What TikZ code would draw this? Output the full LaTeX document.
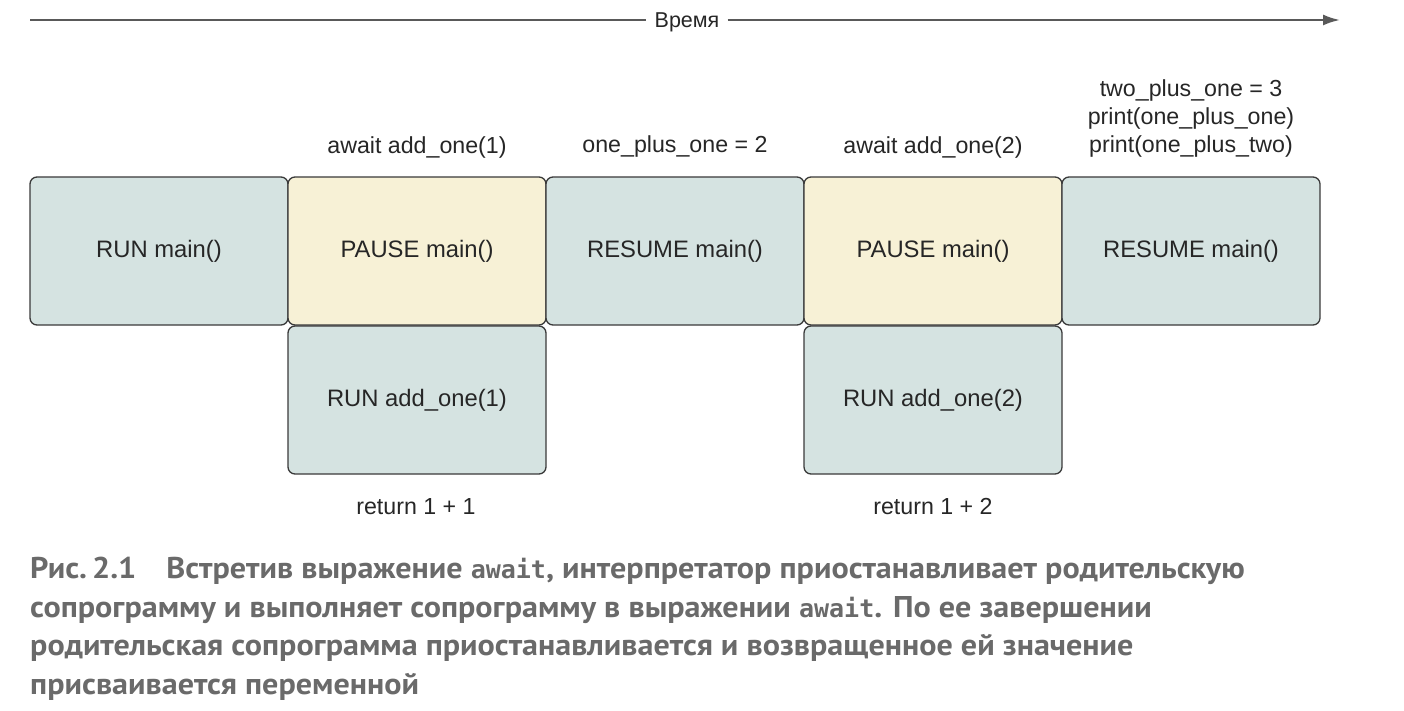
\documentclass[tikz,border=0pt]{standalone}
\usepackage{fontspec}
\setmainfont{Liberation Sans}
\newfontfamily\capfont[FakeStretch=1.07]{PT Sans}
\newfontfamily\capmono{DejaVu Sans Mono}
\usetikzlibrary{arrows.meta}
\definecolor{teal}{HTML}{D5E3E1}
\definecolor{pale}{HTML}{F7F1D6}
\definecolor{edge}{HTML}{3A3A3A}
\definecolor{capgray}{HTML}{6A6A6A}
\tikzset{
  blk/.style={draw=edge, line width=1.3pt, rounded corners=7pt, minimum width=258pt, minimum height=148pt, font=\fontsize{23.8}{28}\selectfont, text=black!85, inner sep=0pt},
  run/.style={blk, fill=teal},
  pause/.style={blk, fill=pale},
  lbl/.style={font=\fontsize{23.2}{28}\selectfont, text=black!85, align=center, inner sep=0pt},
}
\begin{document}
\begin{tikzpicture}[x=1pt,y=-1pt]
\useasboundingbox (0,0) rectangle (1404,711);
% time axis
\node[lbl, font=\fontsize{21.5}{24}\selectfont, fill=white, inner xsep=8pt] (t) at (687,22) {Время};
\coordinate (ts) at (30,20);
\coordinate (te) at (1340,20);
\draw[line width=2.2pt, draw=black!65] (ts) -- (t.west |- ts);
\draw[line width=2.2pt, draw=black!65, -{Latex[length=17pt,width=11pt]}] (t.east |- ts) -- (te);
% boxes
\node[run] (b1) at (159,251) {RUN main()};
\node[pause] (b2) at (417,251) {PAUSE main()};
\node[run] (b3) at (675,251) {RESUME main()};
\node[pause] (b4) at (933,251) {PAUSE main()};
\node[run] (b5) at (1191,251) {RESUME main()};
\node[run] (c2) at (417,400) {RUN add\_one(1)};
\node[run] (c4) at (933,400) {RUN add\_one(2)};
% labels
\node[lbl] (l2) at (417,147) {await add\_one(1)};
\node[lbl] (l3) at (675,147) {one\_plus\_one = 2};
\node[lbl] (l4) at (933,147) {await add\_one(2)};
\node[lbl, anchor=south] (l5) at (1191,158) {two\_plus\_one = 3\\print(one\_plus\_one)\\print(one\_plus\_two)};
\node[lbl] (r2) at (416,507) {return 1 + 1};
\node[lbl] (r4) at (933,507) {return 1 + 2};
% caption
\node[anchor=north west, inner sep=0pt, align=left, text=capgray, font=\capfont\bfseries\fontsize{30}{38.5}\selectfont] (cap) at (30,557)
{Рис.\,2.1\hspace{30pt}Встретив выражение {\capmono\fontsize{25}{38.5}\selectfont await}, интерпретатор приостанавливает родительскую\\
сопрограмму и выполняет сопрограмму в выражении {\capmono\fontsize{25}{38.5}\selectfont await}. По ее завершении\\
родительская сопрограмма приостанавливается и возвращенное ей значение\\
присваивается переменной};
\end{tikzpicture}
\end{document}
